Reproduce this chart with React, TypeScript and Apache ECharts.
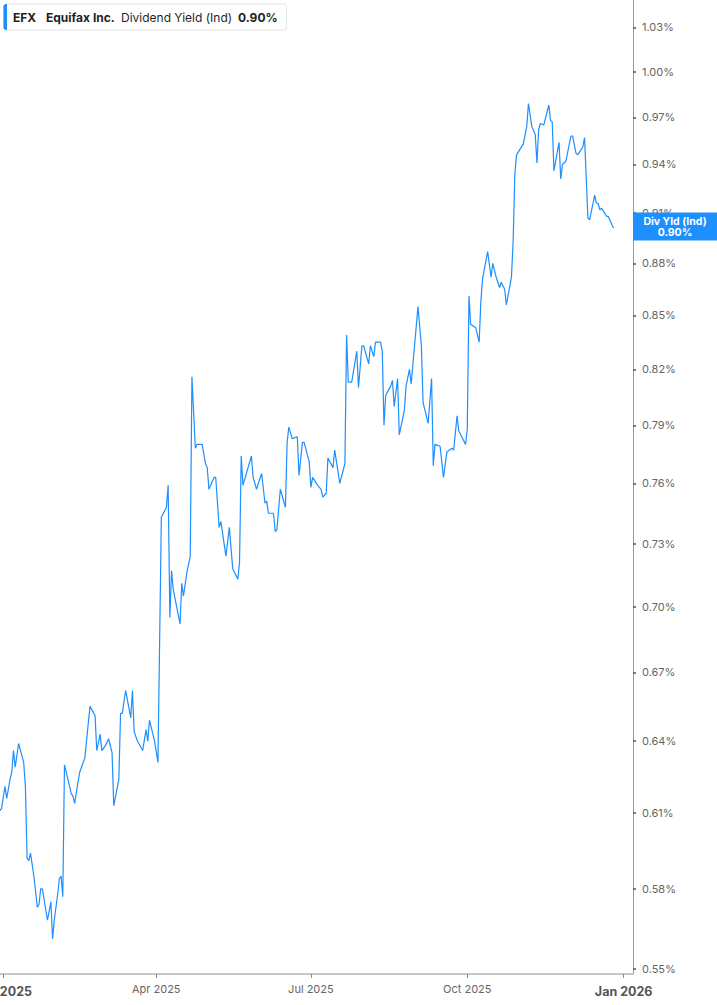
import React, { useEffect, useRef } from "react";
import * as echarts from "echarts";

const dates: string[] = [
  "2024-12-30", "2024-12-31", "2025-01-02", "2025-01-03", "2025-01-05", "2025-01-06", "2025-01-07", "2025-01-08", "2025-01-10", "2025-01-13",
  "2025-01-14", "2025-01-15", "2025-01-16", "2025-01-17", "2025-01-19", "2025-01-21", "2025-01-22", "2025-01-23", "2025-01-24", "2025-01-27",
  "2025-01-29", "2025-01-30", "2025-01-31", "2025-02-02", "2025-02-03", "2025-02-04", "2025-02-05", "2025-02-06", "2025-02-07", "2025-02-10",
  "2025-02-11", "2025-02-12", "2025-02-14", "2025-02-15", "2025-02-18", "2025-02-21", "2025-02-24", "2025-02-25", "2025-02-27", "2025-02-28",
  "2025-03-02", "2025-03-04", "2025-03-06", "2025-03-07", "2025-03-10", "2025-03-11", "2025-03-12", "2025-03-14", "2025-03-17", "2025-03-18",
  "2025-03-19", "2025-03-21", "2025-03-24", "2025-03-26", "2025-03-27", "2025-03-28", "2025-03-31", "2025-04-02", "2025-04-04", "2025-04-07",
  "2025-04-08", "2025-04-09", "2025-04-10", "2025-04-11", "2025-04-13", "2025-04-15", "2025-04-16", "2025-04-17", "2025-04-19", "2025-04-21",
  "2025-04-22", "2025-04-23", "2025-04-24", "2025-04-25", "2025-04-28", "2025-04-30", "2025-05-01", "2025-05-02", "2025-05-05", "2025-05-06",
  "2025-05-08", "2025-05-09", "2025-05-12", "2025-05-14", "2025-05-16", "2025-05-19", "2025-05-20", "2025-05-21", "2025-05-22", "2025-05-27",
  "2025-05-28", "2025-05-30", "2025-06-02", "2025-06-04", "2025-06-05", "2025-06-06", "2025-06-09", "2025-06-10", "2025-06-11", "2025-06-13",
  "2025-06-16", "2025-06-17", "2025-06-18", "2025-06-20", "2025-06-23", "2025-06-24", "2025-06-26", "2025-06-27", "2025-06-30", "2025-07-01",
  "2025-07-02", "2025-07-05", "2025-07-07", "2025-07-08", "2025-07-10", "2025-07-11", "2025-07-14", "2025-07-15", "2025-07-18", "2025-07-21",
  "2025-07-22", "2025-07-23", "2025-07-25", "2025-07-28", "2025-07-29", "2025-07-31", "2025-08-01", "2025-08-04", "2025-08-05", "2025-08-07",
  "2025-08-08", "2025-08-11", "2025-08-12", "2025-08-13", "2025-08-14", "2025-08-17", "2025-08-18", "2025-08-19", "2025-08-21", "2025-08-22",
  "2025-08-25", "2025-08-26", "2025-08-28", "2025-08-29", "2025-09-02", "2025-09-04", "2025-09-05", "2025-09-08", "2025-09-10", "2025-09-11",
  "2025-09-12", "2025-09-15", "2025-09-17", "2025-09-19", "2025-09-22", "2025-09-23", "2025-09-25", "2025-09-26", "2025-09-30", "2025-10-01",
  "2025-10-02", "2025-10-03", "2025-10-06", "2025-10-08", "2025-10-09", "2025-10-10", "2025-10-13", "2025-10-15", "2025-10-16", "2025-10-18",
  "2025-10-20", "2025-10-21", "2025-10-23", "2025-10-24", "2025-10-27", "2025-10-28", "2025-10-29", "2025-10-30", "2025-11-03", "2025-11-05",
  "2025-11-06", "2025-11-08", "2025-11-10", "2025-11-11", "2025-11-12", "2025-11-13", "2025-11-15", "2025-11-18", "2025-11-19", "2025-11-20",
  "2025-11-21", "2025-11-24", "2025-11-25", "2025-11-26", "2025-11-28", "2025-12-01", "2025-12-02", "2025-12-04", "2025-12-05", "2025-12-08",
  "2025-12-09", "2025-12-11", "2025-12-12", "2025-12-15", "2025-12-16", "2025-12-17", "2025-12-18", "2025-12-19", "2025-12-22", "2025-12-23", "2025-12-26",
];

const yieldValues: number[] = [
  0.611, 0.612, 0.621, 0.616, 0.624, 0.627, 0.636, 0.629, 0.639, 0.631,
  0.621, 0.592, 0.591, 0.594, 0.585, 0.573, 0.574, 0.58, 0.58, 0.568,
  0.575, 0.561, 0.568, 0.578, 0.584, 0.585, 0.577, 0.63, 0.627, 0.618,
  0.617, 0.614, 0.623, 0.627, 0.633, 0.655, 0.651, 0.636, 0.643, 0.636,
  0.638, 0.641, 0.635, 0.613, 0.624, 0.652, 0.652, 0.662, 0.65, 0.662,
  0.644, 0.64, 0.636, 0.645, 0.64, 0.649, 0.64, 0.631, 0.743, 0.748,
  0.759, 0.695, 0.717, 0.708, 0.7, 0.692, 0.711, 0.705, 0.716, 0.724,
  0.816, 0.797, 0.778, 0.78, 0.78, 0.77, 0.768, 0.757, 0.763, 0.763,
  0.738, 0.741, 0.724, 0.738, 0.718, 0.713, 0.721, 0.774, 0.759, 0.774,
  0.763, 0.757, 0.765, 0.75, 0.751, 0.745, 0.745, 0.736, 0.737, 0.757,
  0.748, 0.781, 0.789, 0.783, 0.784, 0.764, 0.781, 0.781, 0.771, 0.758,
  0.763, 0.759, 0.757, 0.753, 0.755, 0.773, 0.768, 0.777, 0.76, 0.77,
  0.839, 0.813, 0.813, 0.83, 0.81, 0.833, 0.833, 0.823, 0.833, 0.827,
  0.835, 0.835, 0.83, 0.79, 0.806, 0.811, 0.814, 0.8, 0.815, 0.785,
  0.798, 0.811, 0.82, 0.812, 0.855, 0.833, 0.802, 0.791, 0.815, 0.769,
  0.78, 0.779, 0.763, 0.776, 0.778, 0.777, 0.795, 0.787, 0.78, 0.788,
  0.861, 0.845, 0.843, 0.835, 0.858, 0.871, 0.887, 0.872, 0.88, 0.872,
  0.866, 0.869, 0.865, 0.856, 0.872, 0.893, 0.934, 0.946, 0.953, 0.964,
  0.979, 0.964, 0.959, 0.941, 0.962, 0.966, 0.965, 0.978, 0.968, 0.967,
  0.936, 0.954, 0.931, 0.94, 0.942, 0.958, 0.958, 0.947, 0.946, 0.951,
  0.957, 0.907, 0.906, 0.921, 0.916, 0.916, 0.912, 0.913, 0.908, 0.908, 0.901,
];

const yTicks: number[] = [0.55, 0.58, 0.61, 0.64, 0.67, 0.7, 0.73, 0.76, 0.79, 0.82, 0.85, 0.88, 0.91, 0.94, 0.97, 1.0, 1.03];
const xTickDates: string[] = ["2025-01-01", "2025-04-01", "2025-07-01", "2025-10-01", "2026-01-01"];
const monthNames: string[] = ["Jan", "Feb", "Mar", "Apr", "May", "Jun", "Jul", "Aug", "Sep", "Oct", "Nov", "Dec"];

const X_MIN = "2024-12-30T01:30:00Z";
const X_MAX = "2026-01-06T12:30:00Z";
const Y_MIN = 0.548;
const Y_MAX = 1.0489;

const TICKER = "EFX";
const COMPANY = "Equifax Inc.";
const METRIC = "Dividend Yield (Ind)";
const SHORT_METRIC = "Div Yld (Ind)";

const BLUE = "#1E8FFF";
const FONT = "Inter, 'Noto Sans', Arial, sans-serif";

const toTs = (s: string) => new Date(s.length === 10 ? s + "T00:00:00Z" : s).getTime();

export default function App() {
  const ref = useRef<HTMLDivElement>(null);

  useEffect(() => {
    if (!ref.current) return;
    const chart = echarts.init(ref.current, undefined, { renderer: "svg" });
    const seriesData = dates.map((d, i) => [toTs(d), Math.log(yieldValues[i])]);
    const xTicks = xTickDates.map(toTs);
    const yTickLn = yTicks.map((v) => Math.log(v));
    const last = yieldValues[yieldValues.length - 1];
    const lastText = last.toFixed(2) + "%";

    chart.setOption({
      animation: false,
      backgroundColor: "#ffffff",
      grid: { left: 0, right: 84, top: 0, bottom: 31, containLabel: false, outerBoundsMode: "none" },
      xAxis: {
        type: "value",
        min: toTs(X_MIN),
        max: toTs(X_MAX),
        axisLine: { show: true, onZero: false, lineStyle: { color: "#b4b4b4", width: 1.6 } },
        axisTick: { show: true, customValues: xTicks, length: 4, lineStyle: { color: "#8a8a8a", width: 1 } },
        axisLabel: {
          customValues: xTicks,
          margin: 9,
          color: "#666",
          fontSize: 11,
          fontFamily: FONT,
          formatter: (v: number) => {
            const d = new Date(v);
            const m = d.getUTCMonth();
            const txt = monthNames[m] + " " + d.getUTCFullYear();
            return m === 0 ? "{b|" + txt + "}" : txt;
          },
          rich: {
            b: { fontSize: 12.5, fontWeight: "bold", color: "#555", fontFamily: FONT, padding: [2, 0, 0, 0] },
          },
        },
        splitLine: { show: false },
      },
      yAxis: {
        type: "value",
        position: "right",
        min: Math.log(Y_MIN),
        max: Math.log(Y_MAX),
        axisLine: { show: true, lineStyle: { color: "#9a9a9a", width: 1 } },
        axisTick: { show: true, customValues: yTickLn, length: 3, lineStyle: { color: "#555", width: 1.5 } },
        axisLabel: {
          customValues: yTickLn,
          margin: 9,
          color: "#666",
          fontSize: 11,
          fontFamily: FONT,
          formatter: (v: number) => Math.exp(v).toFixed(2) + "%",
        },
        splitLine: { show: false },
      },
      series: [
        {
          type: "line",
          data: seriesData,
          showSymbol: false,
          symbol: "none",
          lineStyle: { color: BLUE, width: 1.2 },
          clip: true,
        },
      ],
    });

    const yPix = chart.convertToPixel({ yAxisIndex: 0 }, Math.log(last)) as number;

    chart.setOption({
      graphic: [
        {
          type: "rect",
          shape: { x: 3.5, y: 4, width: 283, height: 26, r: 3 },
          style: { fill: "#ffffff", stroke: "#e4e4e4", lineWidth: 1 },
          z: 100,
        },
        {
          type: "rect",
          shape: { x: 3.5, y: 4, width: 3.5, height: 26, r: [3, 0, 0, 3] },
          style: { fill: BLUE },
          z: 101,
        },
        {
          type: "text",
          x: 13,
          y: 17,
          style: { text: TICKER, fontSize: 12, fontWeight: "bold", fontFamily: FONT, fill: "#1f1f1f", verticalAlign: "middle" },
          z: 102,
        },
        {
          type: "text",
          x: 46,
          y: 17,
          style: { text: COMPANY, fontSize: 12, fontWeight: "bold", fontFamily: FONT, fill: "#1f1f1f", verticalAlign: "middle" },
          z: 102,
        },
        {
          type: "text",
          x: 121,
          y: 17,
          style: { text: METRIC, fontSize: 12, fontFamily: FONT, fill: "#1f1f1f", verticalAlign: "middle" },
          z: 102,
        },
        {
          type: "text",
          x: 238,
          y: 17,
          style: { text: lastText, fontSize: 12, fontWeight: "bold", fontFamily: FONT, fill: "#1f1f1f", verticalAlign: "middle" },
          z: 102,
        },
        {
          type: "rect",
          shape: { x: 633, y: yPix - 15.5, width: 84, height: 28 },
          style: { fill: BLUE },
          z: 100,
        },
        {
          type: "text",
          x: 675,
          y: yPix - 6.5,
          style: { text: SHORT_METRIC, fontSize: 10.5, fontWeight: "bold", fontFamily: FONT, fill: "#ffffff", align: "center", verticalAlign: "middle" },
          z: 101,
        },
        {
          type: "text",
          x: 675,
          y: yPix + 4.5,
          style: { text: lastText, fontSize: 10.5, fontWeight: "bold", fontFamily: FONT, fill: "#ffffff", align: "center", verticalAlign: "middle" },
          z: 101,
        },
      ],
    });

    return () => {
      chart.dispose();
    };
  }, []);

  return (
    <div
      ref={ref}
      style={{ position: "fixed", left: 0, top: 0, width: 717, height: 1005, background: "#fff" }}
    />
  );
}
